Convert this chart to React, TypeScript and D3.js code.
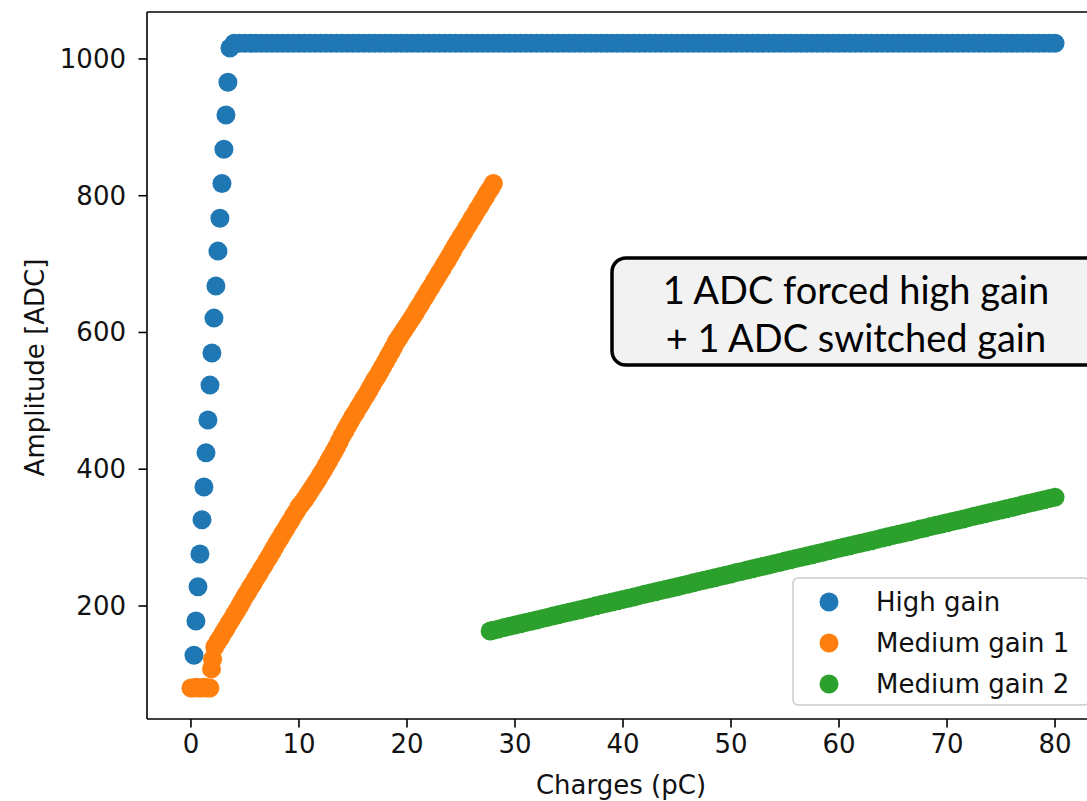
import React from "react";
import * as d3 from "d3";

// ---------- data ----------
const X_TICKS = [0, 10, 20, 30, 40, 50, 60, 70, 80];
const Y_TICKS = [200, 400, 600, 800, 1000];
const X_LABEL = "Charges (pC)";
const Y_LABEL = "Amplitude [ADC]";
const SERIES_NAMES = ["High gain", "Medium gain 1", "Medium gain 2"];
const SERIES_COLORS = ["#1f77b4", "#ff7f0e", "#2ca02c"];
const NOTE_LINES = ["1 ADC forced high gain", "+ 1 ADC switched gain"];

// High gain: rising steps then saturation
const HIGH_Q = [
  0.28, 0.46, 0.65, 0.83, 1.02, 1.2, 1.39, 1.57, 1.76, 1.94, 2.13, 2.31, 2.5, 2.68, 2.87, 3.05, 3.24, 3.42, 3.61,
  4, 4.5, 5, 5.5, 6, 6.5, 7, 7.5, 8, 8.5, 9, 9.5, 10, 10.5, 11, 11.5, 12, 12.5, 13, 13.5, 14, 14.5, 15, 15.5,
  16, 16.5, 17, 17.5, 18, 18.5, 19, 19.5, 20, 20.5, 21, 21.5, 22, 22.5, 23, 23.5, 24, 24.5, 25, 25.5, 26, 26.5,
  27, 27.5, 28, 28.5, 29, 29.5, 30, 30.5, 31, 31.5, 32, 32.5, 33, 33.5, 34, 34.5, 35, 35.5, 36, 36.5, 37, 37.5,
  38, 38.5, 39, 39.5, 40, 40.5, 41, 41.5, 42, 42.5, 43, 43.5, 44, 44.5, 45, 45.5, 46, 46.5, 47, 47.5, 48, 48.5,
  49, 49.5, 50, 50.5, 51, 51.5, 52, 52.5, 53, 53.5, 54, 54.5, 55, 55.5, 56, 56.5, 57, 57.5, 58, 58.5, 59, 59.5,
  60, 60.5, 61, 61.5, 62, 62.5, 63, 63.5, 64, 64.5, 65, 65.5, 66, 66.5, 67, 67.5, 68, 68.5, 69, 69.5, 70, 70.5,
  71, 71.5, 72, 72.5, 73, 73.5, 74, 74.5, 75, 75.5, 76, 76.5, 77, 77.5, 78, 78.5, 79, 79.5, 80,
];
const HIGH_ADC = [
  128, 178, 228, 276, 326, 374, 424, 472, 523, 570, 621, 668, 719, 767, 818, 868, 918, 966, 1016,
  1023, 1023, 1023, 1023, 1023, 1023, 1023, 1023, 1023, 1023, 1023, 1023, 1023, 1023, 1023, 1023, 1023, 1023, 1023, 1023, 1023, 1023, 1023, 1023,
  1023, 1023, 1023, 1023, 1023, 1023, 1023, 1023, 1023, 1023, 1023, 1023, 1023, 1023, 1023, 1023, 1023, 1023, 1023, 1023, 1023, 1023,
  1023, 1023, 1023, 1023, 1023, 1023, 1023, 1023, 1023, 1023, 1023, 1023, 1023, 1023, 1023, 1023, 1023, 1023, 1023, 1023, 1023, 1023,
  1023, 1023, 1023, 1023, 1023, 1023, 1023, 1023, 1023, 1023, 1023, 1023, 1023, 1023, 1023, 1023, 1023, 1023, 1023, 1023, 1023, 1023,
  1023, 1023, 1023, 1023, 1023, 1023, 1023, 1023, 1023, 1023, 1023, 1023, 1023, 1023, 1023, 1023, 1023, 1023, 1023, 1023, 1023, 1023,
  1023, 1023, 1023, 1023, 1023, 1023, 1023, 1023, 1023, 1023, 1023, 1023, 1023, 1023, 1023, 1023, 1023, 1023, 1023, 1023, 1023, 1023,
  1023, 1023, 1023, 1023, 1023, 1023, 1023, 1023, 1023, 1023, 1023, 1023, 1023, 1023, 1023, 1023, 1023, 1023, 1023,
];

// Medium gain 1
const MED1_Q = [
  0, 0.25, 0.5, 0.75, 1, 1.25, 1.5, 1.75, 1.9, 2.0, 2.2, 2.5, 2.75, 3, 3.25, 3.5, 3.75, 4, 4.25, 4.5, 4.75,
  5, 5.25, 5.5, 5.75, 6, 6.25, 6.5, 6.75, 7, 7.25, 7.5, 7.75, 8, 8.25, 8.5, 8.75, 9, 9.25, 9.5, 9.75,
  10, 10.25, 10.5, 10.75, 11, 11.25, 11.5, 11.75, 12, 12.25, 12.5, 12.75, 13, 13.25, 13.5, 13.75, 14, 14.25,
  14.5, 14.75, 15, 15.25, 15.5, 15.75, 16, 16.25, 16.5, 16.75, 17, 17.25, 17.5, 17.75, 18, 18.25, 18.5, 18.75,
  19, 19.25, 19.5, 19.75, 20, 20.25, 20.5, 20.75, 21, 21.25, 21.5, 21.75, 22, 22.25, 22.5, 22.75, 23, 23.25,
  23.5, 23.75, 24, 24.25, 24.5, 24.75, 25, 25.25, 25.5, 25.75, 26, 26.25, 26.5, 26.75, 27, 27.25, 27.5, 27.75, 28,
];
const MED1_ADC = [
  80, 80, 81, 80, 80, 81, 80, 80, 108, 122, 140, 148, 154, 161, 167, 174, 180, 187, 193, 200, 207,
  214, 220, 227, 233, 240, 246, 253, 259, 266, 272, 279, 286, 293, 299, 306, 312, 319, 325, 332, 338,
  345, 350, 355, 361, 367, 373, 379, 385, 392, 398, 405, 412, 419, 426, 433, 441, 449, 456,
  463, 470, 477, 483, 490, 496, 503, 509, 516, 523, 530, 536, 543, 550, 557, 564, 571, 578,
  586, 592, 598, 604, 610, 616, 622, 628, 635, 641, 648, 654, 661, 667, 674, 680, 687, 693,
  700, 706, 713, 720, 727, 733, 740, 746, 753, 759, 766, 772, 779, 785, 792, 798, 805, 811, 818,
];

// Medium gain 2
const MED2_Q = [
  27.7, 28, 28.5, 29, 29.5, 30, 30.5, 31, 31.5, 32, 32.5, 33, 33.5, 34, 34.5, 35, 35.5, 36, 36.5, 37, 37.5, 38,
  38.5, 39, 39.5, 40, 40.5, 41, 41.5, 42, 42.5, 43, 43.5, 44, 44.5, 45, 45.5, 46, 46.5, 47, 47.5, 48, 48.5, 49,
  49.5, 50, 50.5, 51, 51.5, 52, 52.5, 53, 53.5, 54, 54.5, 55, 55.5, 56, 56.5, 57, 57.5, 58, 58.5, 59, 59.5, 60,
  60.5, 61, 61.5, 62, 62.5, 63, 63.5, 64, 64.5, 65, 65.5, 66, 66.5, 67, 67.5, 68, 68.5, 69, 69.5, 70, 70.5, 71,
  71.5, 72, 72.5, 73, 73.5, 74, 74.5, 75, 75.5, 76, 76.5, 77, 77.5, 78, 78.5, 79, 79.5, 80,
];
const MED2_ADC = [
  163.5, 164.6, 166.5, 168.4, 170.2, 172.1, 174, 175.8, 177.7, 179.6, 181.5, 183.3, 185.2, 187.1, 188.9, 190.8,
  192.7, 194.5, 196.4, 198.3, 200.2, 202, 203.9, 205.8, 207.6, 209.5, 211.4, 213.2, 215.1, 217, 218.9, 220.7,
  222.6, 224.5, 226.3, 228.2, 230.1, 231.9, 233.8, 235.7, 237.6, 239.4, 241.3, 243.2, 245, 246.9, 248.8, 250.6,
  252.5, 254.4, 256.3, 258.1, 260, 261.9, 263.7, 265.6, 267.5, 269.3, 271.2, 273.1, 275, 276.8, 278.7, 280.6,
  282.4, 284.3, 286.2, 288, 289.9, 291.8, 293.7, 295.5, 297.4, 299.3, 301.1, 303, 304.9, 306.7, 308.6, 310.5,
  312.4, 314.2, 316.1, 318, 319.8, 321.7, 323.6, 325.4, 327.3, 329.2, 331.1, 332.9, 334.8, 336.7, 338.5, 340.4,
  342.3, 344.1, 346, 347.9, 349.8, 351.6, 353.5, 355.4, 357.2, 359.1,
];

// ---------- layout ----------
const W = 1087;
const H = 801;
const LEFT = 147;
const TOP = 12;
const BOTTOM = 719;
const RIGHT = 1099;
const R = 9.5;
const FONT = "'DejaVu Sans', sans-serif";
const FS = 26;

export default function App() {
  const x = d3.scaleLinear().domain([-4.07, 84.07]).range([LEFT, RIGHT]);
  const y = d3.scaleLinear().domain([34.7, 1068.7]).range([BOTTOM, TOP]);

  const series = [
    { q: HIGH_Q, a: HIGH_ADC },
    { q: MED1_Q, a: MED1_ADC },
    { q: MED2_Q, a: MED2_ADC },
  ];

  const legX = 793;
  const legY = 578;
  const legW = 296;
  const legH = 127;
  const legRowY = [602, 643, 684];

  return (
    <div style={{ position: "fixed", left: 0, top: 0, width: W, height: H, background: "#fff" }}>
      <svg width={W} height={H} style={{ display: "block" }}>
        <defs>
          <clipPath id="plotclip">
            <rect x={LEFT} y={TOP} width={RIGHT - LEFT} height={BOTTOM - TOP} />
          </clipPath>
        </defs>
        <rect x={0} y={0} width={W} height={H} fill="#fff" />

        {/* scatter */}
        <g clipPath="url(#plotclip)">
          {series.map((s, si) => (
            <g key={si} fill={SERIES_COLORS[si]}>
              {s.q.map((qv, i) => (
                <circle key={i} cx={x(qv)} cy={y(s.a[i])} r={R} />
              ))}
            </g>
          ))}
        </g>

        {/* spines */}
        <g stroke="#000" strokeWidth={1.6} fill="none">
          <line x1={LEFT} y1={TOP} x2={LEFT} y2={BOTTOM} />
          <line x1={LEFT} y1={BOTTOM} x2={RIGHT} y2={BOTTOM} />
          <line x1={LEFT} y1={TOP} x2={RIGHT} y2={TOP} />
          <line x1={RIGHT} y1={TOP} x2={RIGHT} y2={BOTTOM} />
        </g>

        {/* ticks and labels */}
        <g fontFamily={FONT} fontSize={FS} fill="#111">
          {X_TICKS.map((t) => (
            <g key={t}>
              <line x1={x(t)} x2={x(t)} y1={BOTTOM} y2={BOTTOM + 8.5} stroke="#000" strokeWidth={1.6} />
              <text x={x(t)} y={BOTTOM + 34} textAnchor="middle">
                {t}
              </text>
            </g>
          ))}
          {Y_TICKS.map((t) => (
            <g key={t}>
              <line x1={LEFT - 8.5} x2={LEFT} y1={y(t)} y2={y(t)} stroke="#000" strokeWidth={1.6} />
              <text x={LEFT - 21} y={y(t)} textAnchor="end" dominantBaseline="central">
                {t}
              </text>
            </g>
          ))}
          <text x={(LEFT + RIGHT) / 2 - 2} y={794} textAnchor="middle">
            {X_LABEL}
          </text>
          <text
            transform={`translate(${35},${(TOP + BOTTOM) / 2 + 2}) rotate(-90)`}
            textAnchor="middle"
            dominantBaseline="central"
          >
            {Y_LABEL}
          </text>
        </g>

        {/* legend */}
        <g>
          <rect
            x={legX}
            y={legY}
            width={legW}
            height={legH}
            rx={5}
            fill="#fff"
            fillOpacity={0.8}
            stroke="#cccccc"
            strokeWidth={1.5}
          />
          {SERIES_NAMES.map((n, i) => (
            <g key={n}>
              <circle cx={829} cy={legRowY[i]} r={R} fill={SERIES_COLORS[i]} />
              <text
                x={876}
                y={legRowY[i]}
                dominantBaseline="central"
                fontFamily={FONT}
                fontSize={FS}
                fill="#111"
              >
                {n}
              </text>
            </g>
          ))}
        </g>

        {/* annotation box */}
        <g>
          <rect x={612} y={258} width={490} height={107} rx={14} fill="#f2f2f2" stroke="#000" strokeWidth={3.5} />
          {NOTE_LINES.map((l, i) => (
            <text
              key={i}
              x={856}
              y={289 + i * 48}
              textAnchor="middle"
              dominantBaseline="central"
              fontFamily="Lato, 'Open Sans', sans-serif"
              fontSize={38}
              fill="#000"
            >
              {l}
            </text>
          ))}
        </g>
      </svg>
    </div>
  );
}
